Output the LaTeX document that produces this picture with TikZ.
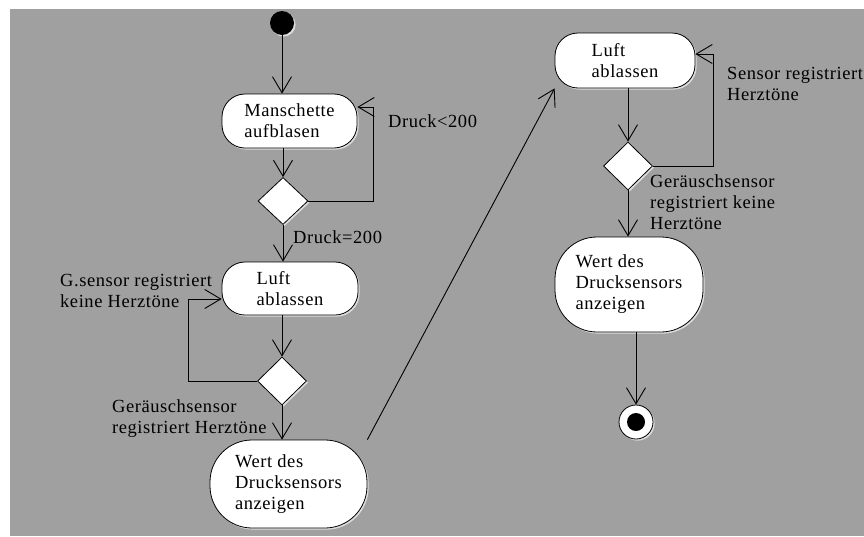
\documentclass[tikz,border=0pt]{standalone}
\usepackage{fontspec}
\setmainfont[LetterSpace=3]{Liberation Serif}
\usetikzlibrary{arrows.meta,shapes.geometric,shadows}
\definecolor{panel}{HTML}{A0A0A0}
\definecolor{rim}{HTML}{DCDCDC}
\begin{document}
\begin{tikzpicture}[x=1pt,y=-1pt,
  every node/.style={font=\fontsize{18.5}{21}\selectfont},
  lite/.style={drop shadow={shadow xshift=1.6pt,shadow yshift=-1.6pt,fill=rim,opacity=1}},
  action/.style={draw=black,line width=0.8pt,fill=white,lite,rectangle,
    rounded corners=23pt,align=left,inner sep=0pt},
  valuebox/.style={action,rounded corners=42pt},
  choice/.style={draw=black,line width=0.8pt,fill=white,lite,diamond,inner sep=0pt},
  flow/.style={line width=0.9pt,-{Straight Barb[length=16pt,width=19pt,line width=0.9pt]}},
  guard/.style={inner sep=0pt,align=left,anchor=north west}]

% canvas: white margin on the left and top, grey panel behind the diagram
\useasboundingbox (0,0) rectangle (864,536);
\fill[white] (0,0) rectangle (864,536);
\fill[panel] (10,9) rectangle (864,536);

% left column
\node[circle,fill=black,minimum size=24pt,inner sep=0pt,lite] (start) at (282,23) {};
\node[action,minimum width=135pt,minimum height=54pt] (inflate) at (289.5,121) {Manschette\\aufblasen};
\node[choice,minimum width=50pt,minimum height=47pt] (dec1) at (283,201) {};
\node[action,minimum width=136pt,minimum height=53pt] (deflate1) at (290,288.5) {Luft\\ablassen};
\node[choice,minimum width=49pt,minimum height=48pt] (dec2) at (282,381) {};
\node[valuebox,minimum width=157pt,minimum height=88pt] (show1) at (288.5,484) {Wert des\\Drucksensors\\anzeigen};

% right column
\node[action,minimum width=140pt,minimum height=55pt] (deflate2) at (625,60.5) {Luft\\ablassen};
\node[choice,minimum width=49pt,minimum height=48pt] (dec3) at (628,166) {};
\node[valuebox,minimum width=148pt,minimum height=95pt] (show2) at (629,284.5) {Wert des\\Drucksensors\\anzeigen};
\node[circle,draw=black,line width=0.8pt,fill=white,minimum size=34pt,inner sep=0pt,lite,
  path picture={\fill[black] (path picture bounding box.center) circle (9pt);}] (stop) at (636,422) {};

% transitions, left column
\draw[flow] (start.south) -- (start |- inflate.north);
\draw[flow] (inflate.south -| dec1) -- (dec1.north);
\draw[flow] (dec1.east) -- ++(65,0) |- ([yshift=14pt]inflate.east);
\draw[flow] (dec1.south) -- (dec1 |- deflate1.north);
\draw[flow] (deflate1.south -| dec2) -- (dec2.north);
\draw[flow] (dec2.west) -- ++(-69,0) |- ([yshift=-10.5pt]deflate1.west);
\draw[flow] (dec2.south) -- (dec2 |- show1.north);

% jump to the right column
\draw[flow] (show1.north east) -- (deflate2.south west);

% transitions, right column
\draw[flow] (deflate2.south -| dec3) -- (dec3.north);
\draw[flow] (dec3.east) -- ++(61,0) |- ([yshift=6.5pt]deflate2.east);
\draw[flow] (dec3.south) -- (dec3 |- show2.north);
\draw[flow] (show2.south -| stop) -- (stop.north);

% guard labels
\node[guard] (g1) at (388,114) {Druck<200};
\node[guard] (g2) at (293,230) {Druck=200};
\node[guard] (g3) at (60,274) {G.sensor registriert\\keine Herztöne};
\node[guard] (g4) at (112,399) {Geräuschsensor\\registriert Herztöne};
\node[guard] (g5) at (727,67) {Sensor registriert\\Herztöne};
\node[guard] (g6) at (650,174) {Geräuschsensor\\registriert keine\\Herztöne};
\end{tikzpicture}
\end{document}
